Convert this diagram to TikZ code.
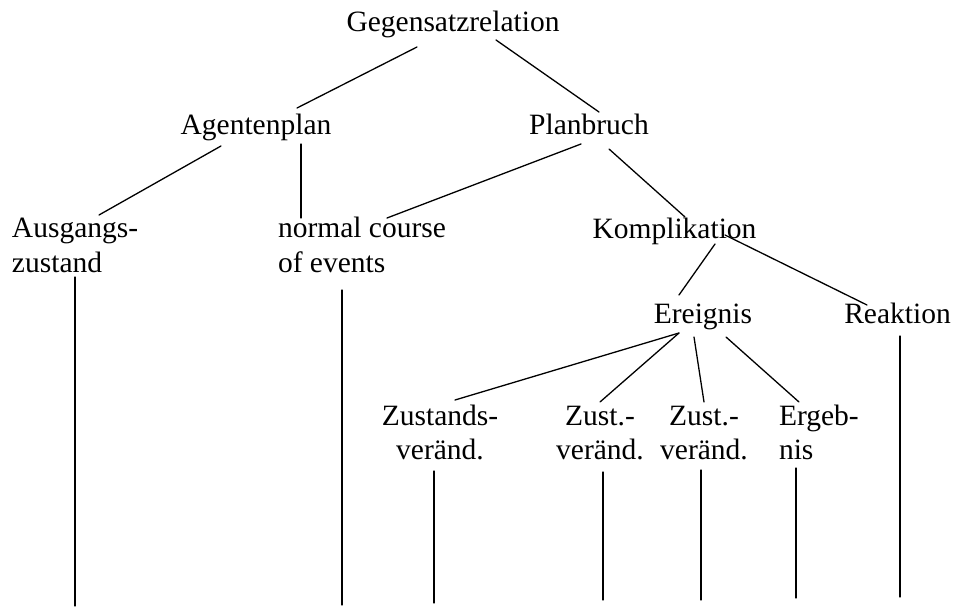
\documentclass[tikz,border=0pt]{standalone}
\usepackage{fontspec}
\setmainfont{Liberation Serif}
\begin{document}
\begin{tikzpicture}[x=1pt,y=-1pt,
  lbl/.style={inner sep=0pt,outer sep=0pt,font=\fontsize{29.5}{34.5}\selectfont,anchor=base},
  lblw/.style={lbl,anchor=base west,align=left},
  lblc/.style={lbl,align=center},
  branch/.style={line width=1.3pt,line cap=round}]
\useasboundingbox (0,0) rectangle (954,610);

% tree labels (two-line labels are placed by the baseline of their last line)
\node[lbl]  (G)  at (453,32)    {Gegensatzrelation};
\node[lbl]  (A)  at (256,135)   {Agentenplan};
\node[lbl]  (P)  at (589,135)   {Planbruch};
\node[lblw] (Au) at (12,272)    {Ausgangs-\\zustand};
\node[lblw] (N)  at (278,272)   {normal course\\of events};
\node[lbl]  (K)  at (674.5,238) {Komplikation};
\node[lbl]  (E)  at (703,323)   {Ereignis};
\node[lbl]  (R)  at (897.5,323) {Reaktion};
\node[lblc] (Z)  at (440,459.5) {Zustands-\\veränd.};
\node[lblc] (Z1) at (600,459.5) {Zust.-\\veränd.};
\node[lblc] (Z2) at (704,459.5) {Zust.-\\veränd.};
\node[lblw] (Eg) at (779,459.5) {Ergeb-\\nis};

% free lower ends of the stems
\coordinate (AuEnd) at (75,606);
\coordinate (NEnd)  at (342,605);
\coordinate (ZEnd)  at (434,603);
\coordinate (Z1End) at (603,600);
\coordinate (Z2End) at (701,600);
\coordinate (EgEnd) at (796,598);
\coordinate (REnd)  at (900,597);

% branches
\draw[branch] ([shift={(-36,15)}]G.base) -- ([shift={(41,-27)}]A.base);
\draw[branch] ([shift={(43,8)}]G.base) -- ([shift={(10,-23)}]P.base);
\draw[branch] ([shift={(-35,11)}]A.base) -- ([shift={(87,-57)}]Au.base west);
\draw[branch] ([shift={(45,9)}]A.base) -- ([shift={(23,-54)}]N.base west);
\draw[branch] ([shift={(-8,9)}]P.base) -- ([shift={(109,-54)}]N.base west);
\draw[branch] ([shift={(20,14)}]P.base) -- ([shift={(10.5,-21)}]K.base);
\draw[branch] ([shift={(40.5,6)}]K.base) -- ([shift={(-24,-28)}]E.base);
\draw[branch] ([shift={(50.5,-3)}]K.base) -- ([shift={(-30.5,-18)}]R.base);
\draw[branch] ([shift={(-24,10)}]E.base) -- ([shift={(15,-59.5)}]Z.base);
\draw[branch] ([shift={(-24,10)}]E.base) -- ([shift={(0,-57.5)}]Z1.base);
\draw[branch] ([shift={(-9,14)}]E.base) -- ([shift={(0,-57.5)}]Z2.base);
\draw[branch] ([shift={(23,14)}]E.base) -- ([shift={(20,-57.5)}]Eg.base west);

% stems
\draw[branch] ([shift={(63,5)}]Au.base west) -- (AuEnd);
\draw[branch] ([shift={(64,18)}]N.base west) -- (NEnd);
\draw[branch] ([shift={(-6,11.5)}]Z.base) -- (ZEnd);
\draw[branch] ([shift={(3,12.5)}]Z1.base) -- (Z1End);
\draw[branch] ([shift={(-3,10.5)}]Z2.base) -- (Z2End);
\draw[branch] ([shift={(17,8.5)}]Eg.base west) -- (EgEnd);
\draw[branch] ([shift={(2.5,13)}]R.base) -- (REnd);
\end{tikzpicture}
\end{document}
